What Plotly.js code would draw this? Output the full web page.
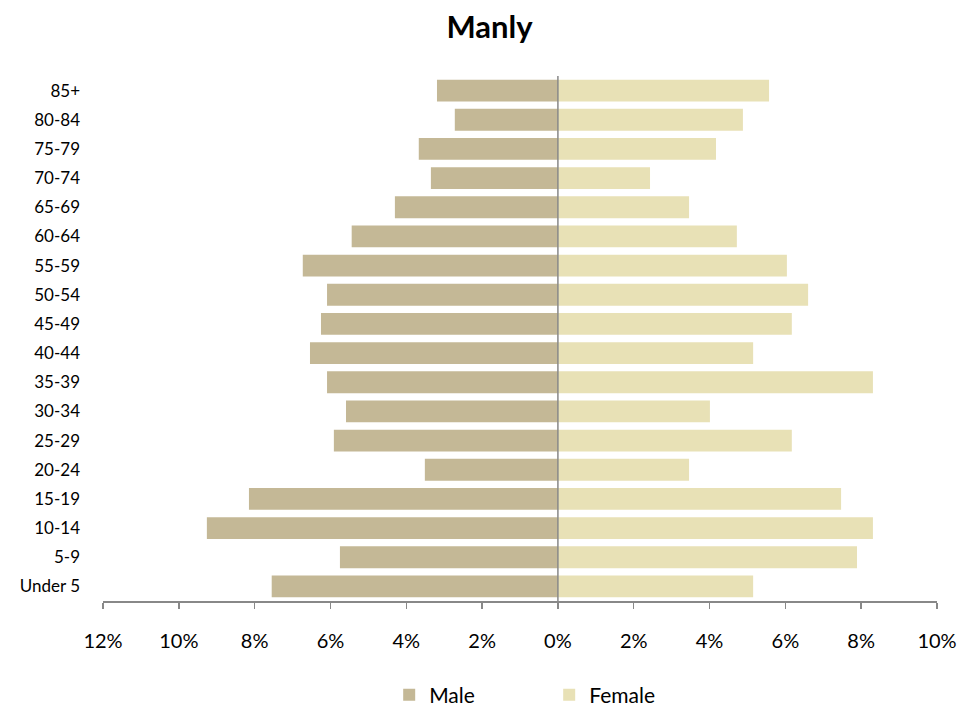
<!DOCTYPE html>
<html>
<head>
<meta charset="utf-8">
<script src="https://cdn.plot.ly/plotly-3.0.1.min.js"></script>
<style>html,body{margin:0;padding:0;background:#fff;}#chart{width:979px;height:713px;}</style>
</head>
<body>
<div id="chart"></div>
<script>
const ageGroups = ["Under 5","5-9","10-14","15-19","20-24","25-29","30-34","35-39","40-44","45-49","50-54","55-59","60-64","65-69","70-74","75-79","80-84","85+"];
const malePct = [7.55,5.75,9.26,8.15,3.51,5.91,5.59,6.09,6.54,6.25,6.09,6.73,5.44,4.30,3.35,3.67,2.72,3.19];
const femalePct = [5.15,7.89,8.31,7.47,3.46,6.17,4.01,8.31,5.15,6.17,6.60,6.04,4.72,3.46,2.43,4.17,4.88,5.57];
const tickValues = [-12,-10,-8,-6,-4,-2,0,2,4,6,8,10];
const tickLabels = ["12%","10%","8%","6%","4%","2%","0%","2%","4%","6%","8%","10%"];

const font = "Lato, 'Open Sans', sans-serif";
const traces = [
  {type:"bar", orientation:"h", name:"Male", y:ageGroups, x:malePct.map(v=>-v),
   marker:{color:"#C4B896", line:{width:0}}, hoverinfo:"skip"},
  {type:"bar", orientation:"h", name:"Female", y:ageGroups, x:femalePct,
   marker:{color:"#E8E1B6", line:{width:0}}, hoverinfo:"skip"}
];
const layout = {
  width:979, height:713,
  margin:{l:103, r:42, t:76, b:112, autoexpand:false},
  paper_bgcolor:"#fff", plot_bgcolor:"#fff",
  barmode:"relative", bargap:0.25,
  title:{text:"<b>Manly</b>", x:0.5, xanchor:"center", y:0.962, yanchor:"middle",
         font:{family:font, size:31, color:"#000"}},
  font:{family:font, color:"#000"},
  xaxis:{range:[-12,10], tickvals:tickValues, ticktext:tickLabels, layer:"above traces",
         showgrid:false, zeroline:false,
         showline:true, linecolor:"#888", linewidth:1.5,
         ticks:"outside", ticklen:6, tickcolor:"#888", tickwidth:1.5,
         ticklabelstandoff:15, tickfont:{family:font, size:20, color:"#000"}, fixedrange:true, automargin:false},
  yaxis:{type:"category", categoryorder:"array", categoryarray:ageGroups,
         showgrid:false, zeroline:false, showline:false, ticks:"",
         ticklabelstandoff:22, tickfont:{family:font, size:17, color:"#000"}, fixedrange:true, automargin:false},
  shapes:[{type:"line", xref:"x", yref:"paper", x0:0, x1:0, y0:0, y1:1, layer:"above",
           line:{color:"#888", width:1.5}}],
  legend:{orientation:"h", x:0.535, xanchor:"center", y:-0.14, yanchor:"top",
          font:{family:font, size:21, color:"#000"}, itemwidth:30, traceorder:"normal",
          entrywidth:115},
  showlegend:true
};
Plotly.newPlot("chart", traces, layout, {displayModeBar:false, staticPlot:true});
</script>
</body>
</html>
